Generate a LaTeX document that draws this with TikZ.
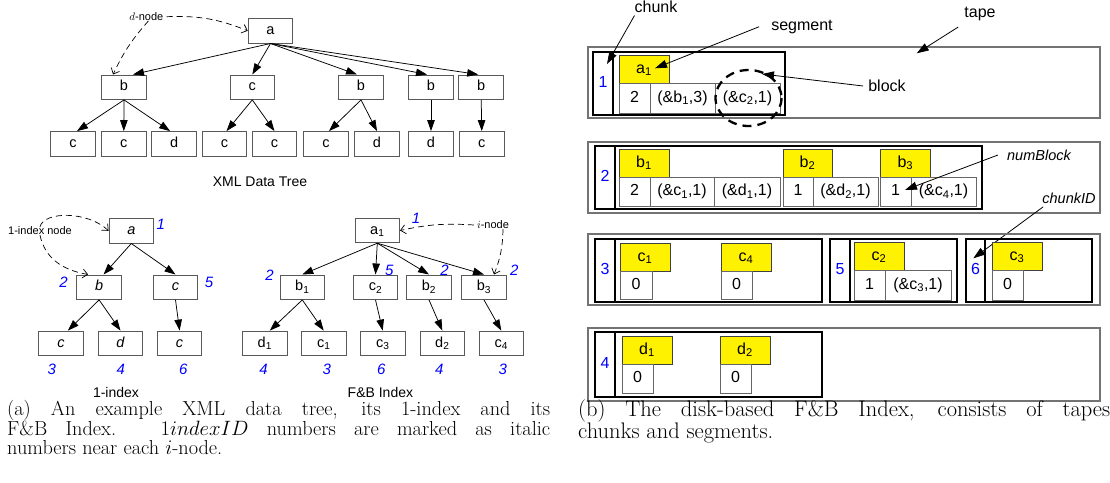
\documentclass[tikz,border=0pt]{standalone}
\usepackage{fontspec}
\newfontfamily\arl{Liberation Sans}
\usetikzlibrary{arrows.meta}
\newcommand\sbs[1]{\textsubscript{#1}}
\newcommand\rbx[7]{\draw[#1] (#3,#4) rectangle (#5,#6) node[midway,txt] (#2) {#7};}
\begin{document}
\begin{tikzpicture}[x=1pt,y=-1pt,
  tbox/.style={draw=black!65, line width=0.9pt, fill=white, minimum width=44.6pt, minimum height=24.5pt, inner sep=0pt, text height=10.5pt, text depth=3pt, font=\arl\fontsize{14.5}{16}\selectfont},
  tarr/.style={-{Triangle[length=11pt,width=7.5pt]}, line width=0.75pt},
  darr/.style={dash pattern=on 6pt off 4pt, line width=0.7pt, -{Straight Barb[length=5pt,width=9pt]}},
  num/.style={text=blue, font=\arl\itshape\fontsize{15}{15}\selectfont, inner sep=0pt},
  lbl/.style={font=\arl\fontsize{14}{14}\selectfont, inner sep=0pt},
  slbl/.style={font=\arl\fontsize{11}{11}\selectfont, inner sep=0pt},
  tape/.style={draw=black!55, line width=1.3pt},
  chk/.style={draw=black, line width=2.6pt},
  cel/.style={draw=black!60, line width=0.9pt, fill=white},
  yel/.style={draw=black!75, line width=0.8pt, fill=yellow},
  txt/.style={font=\arl\fontsize{16}{16}\selectfont, text height=11.5pt, text depth=3.5pt, inner sep=0pt},
  cid/.style={txt, text=blue},
  lab/.style={font=\arl\fontsize{16}{16}\selectfont, inner sep=0pt},
  ilab/.style={font=\arl\itshape\fontsize{14.5}{14.5}\selectfont, inner sep=0pt},
  parr/.style={-{Triangle[length=12pt,width=8pt]}, line width=0.8pt},
  captn/.style={inner sep=0pt, align=justify, anchor=north west}
]
\useasboundingbox (0,0) rectangle (1110,482);
\fill[white] (0,0) rectangle (1110,482);

% ---------- XML data tree ----------
\node[tbox] (xa) at (270.5,30.8) {a};
\node[tbox] (xb1) at (124,87.2) {b};
\node[tbox] (xc1) at (252.3,87.2) {c};
\node[tbox] (xb2) at (361,87.2) {b};
\node[tbox] (xb3) at (431,87.2) {b};
\node[tbox] (xb4) at (481.2,87.2) {b};
\node[tbox] (xl1) at (73,143.8) {c};
\node[tbox] (xl2) at (123.8,143.8) {c};
\node[tbox] (xl3) at (174.1,143.8) {d};
\node[tbox] (xl4) at (224.5,143.8) {c};
\node[tbox] (xl5) at (274.5,143.8) {c};
\node[tbox] (xl6) at (326,143.8) {c};
\node[tbox] (xl7) at (377,143.8) {d};
\node[tbox] (xl8) at (431,143.8) {d};
\node[tbox] (xl9) at (481.8,143.8) {c};
\draw[tarr] (xa.south) -- ([xshift=9pt]xb1.north);
\draw[tarr] (xa.south) -- (xc1.north);
\draw[tarr] (xa.south) -- ([xshift=-4pt]xb2.north);
\draw[tarr] (xa.south) -- ([xshift=-4pt]xb3.north);
\draw[tarr] (xa.south) -- ([xshift=-3pt]xb4.north);
\draw[tarr] (xb1.south) -- ([xshift=4pt]xl1.north);
\draw[tarr] (xb1.south) -- (xl2.north);
\draw[tarr] (xb1.south) -- ([xshift=-4pt]xl3.north);
\draw[tarr] (xc1.south) -- ([xshift=2pt]xl4.north);
\draw[tarr] (xc1.south) -- (xl5.north);
\draw[tarr] (xb2.south) -- ([xshift=3pt]xl6.north);
\draw[tarr] (xb2.south) -- (xl7.north);
\draw[tarr] (xb3.south) -- (xl8.north);
\draw[tarr] (xb4.south) -- (xl9.north);
\node[lbl] (t1) at (260,181.7) {XML Data Tree};
\node[slbl] (dn) at (146.4,16.7) {$d$-node};
\draw[darr] ([xshift=3pt]dn.east) to[bend left=12] (xa.west);
\draw[darr] ([xshift=2pt]dn.south) to[bend right=8] ([xshift=-11pt]xb1.north);

% ---------- 1-index ----------
\node[tbox] (ia) at (131.3,230.8) {\itshape a};
\node[tbox] (ib) at (99.1,287.2) {\itshape b};
\node[tbox] (ic) at (175.5,287.2) {\itshape c};
\node[tbox] (il1) at (60.9,343.3) {\itshape c};
\node[tbox] (il2) at (120.5,343.3) {\itshape d};
\node[tbox] (il3) at (179.6,343.3) {\itshape c};
\draw[tarr] (ia.south) -- ([xshift=4.5pt]ib.north);
\draw[tarr] (ia.south) -- (ic.north);
\draw[tarr] (ib.south) -- ([xshift=7pt]il1.north);
\draw[tarr] (ib.south) -- (il2.north);
\draw[tarr] (ic.south) -- (il3.north);
\node[num] (in1) at (160.7,224.3) {1};
\node[num] (in2) at (63.6,282.3) {2};
\node[num] (in5) at (209,282.3) {5};
\node[num] (in3) at (51.8,369) {3};
\node[num] (in4) at (120.7,369) {4};
\node[num] (in6) at (183.2,369) {6};
\node[slbl] (il) at (40,231) {1-index node};
\draw[darr] (il.north) .. controls (44,211) and (88,211) .. (ia.west);
\draw[darr] (il.south) .. controls (45,258) and (62,270) .. ([xshift=-11pt]ib.north);
\node[lbl] (t2) at (116,392) {1-index};

% ---------- F&B index ----------
\node[tbox] (fa) at (377.3,230.5) {a\sbs{1}};
\node[tbox] (fb1) at (302.3,287.2) {b\sbs{1}};
\node[tbox] (fc2) at (375.5,287.2) {c\sbs{2}};
\node[tbox] (fb2) at (429,287.2) {b\sbs{2}};
\node[tbox] (fb3) at (484,287.2) {b\sbs{3}};
\node[tbox] (fd1) at (264.8,343.3) {d\sbs{1}};
\node[tbox] (fc1) at (323.7,343.3) {c\sbs{1}};
\node[tbox] (fc3) at (382.7,343.3) {c\sbs{3}};
\node[tbox] (fd2) at (442.3,343.3) {d\sbs{2}};
\node[tbox] (fc4) at (501.3,343.3) {c\sbs{4}};
\draw[tarr] (fa.south) -- (fb1.north);
\draw[tarr] (fa.south) -- (fc2.north);
\draw[tarr] (fa.south) -- (fb2.north);
\draw[tarr] (fa.south) -- (fb3.north);
\draw[tarr] (fb1.south) -- ([xshift=5pt]fd1.north);
\draw[tarr] (fb1.south) -- (fc1.north);
\draw[tarr] (fc2.south) -- (fc3.north);
\draw[tarr] (fb2.south) -- (fd2.north);
\draw[tarr] (fb3.south) -- (fc4.north);
\node[num] (fn1) at (416,218.3) {1};
\node[num] (fn2a) at (269.6,275) {2};
\node[num] (fn5) at (389.3,270) {5};
\node[num] (fn2b) at (444.6,270) {2};
\node[num] (fn2c) at (514.3,270) {2};
\node[num] (fn4a) at (263.6,369) {4};
\node[num] (fn3a) at (326.8,369) {3};
\node[num] (fn6) at (381.4,369) {6};
\node[num] (fn4b) at (439.3,369) {4};
\node[num] (fn3b) at (502.9,369) {3};
\node[slbl] (inode) at (493,225) {$i$-node};
\draw[darr] ([xshift=-3pt]inode.west) to[bend right=8] (fa.east);
\draw[darr] ([xshift=10pt]inode.south) to[bend left=10] ([xshift=10pt]fb3.north);
\node[lbl] (t3) at (380.4,392) {F\&B Index};

% ---------- caption (a) ----------
\node[captn, font=\fontsize{20.3}{19.5}\selectfont, text width=543pt] (capa) at (7,400.5) {(a) An example XML data tree, its 1-index and its\linebreak F\&B Index. $1indexID$ numbers are marked as italic\linebreak numbers near each $i$-node.};

% ---------- tape 1 ----------
\draw[tape] (588,47) rectangle (1100,118);
\draw[chk] (593,52) rectangle (785,115);
\draw[chk] (593,52) rectangle (613,115) node[midway,cid] (id1) {1};
\rbx{yel}{sa1}{619}{55}{669}{83}{a\sbs{1}}
\rbx{cel}{s1n}{619}{83}{650}{113}{2}
\rbx{cel}{s1p1}{650}{83}{715}{113}{(\&b\sbs{1},3)}
\rbx{cel}{s1p2}{715}{83}{780}{113}{(\&c\sbs{2},1)}
\draw[dash pattern=on 9pt off 6pt, line width=2.3pt] (748.5,98) ellipse [x radius=33, y radius=28];
\node[lab] (lchunk) at (656,6.5) {chunk};
\node[lab] (lseg) at (802,26.7) {segment};
\node[lab] (lblock) at (887,86) {block};
\node[lab] (ltape) at (980,14) {tape};
\coordinate (tchunk) at (607,64);
\coordinate (tseg) at (655,68.3);
\coordinate (tblock) at (762,74);
\coordinate (ttape) at (916.7,53.3);
\draw[parr] ([yshift=-3pt]lchunk.south west) -- (tchunk);
\draw[parr] ([xshift=-12pt]lseg.west) -- (tseg);
\draw[parr] ([xshift=-5pt]lblock.west) -- (tblock);
\draw[parr] ([xshift=-6pt,yshift=-6pt]ltape.south west) -- (ttape);

% ---------- tape 2 ----------
\draw[tape] (588,142) rectangle (1100,213);
\draw[chk] (595,146) rectangle (982,209);
\draw[chk] (595,146) rectangle (615,209) node[midway,cid] (id2) {2};
\rbx{yel}{sb1}{619}{149}{669}{177}{b\sbs{1}}
\rbx{cel}{s2n}{619}{177}{650}{206}{2}
\rbx{cel}{s2p1}{650}{177}{714}{206}{(\&c\sbs{1},1)}
\rbx{cel}{s2p2}{714}{177}{780}{206}{(\&d\sbs{1},1)}
\rbx{yel}{sb2}{783}{149}{832}{177}{b\sbs{2}}
\rbx{cel}{s3n}{783}{177}{813}{206}{1}
\rbx{cel}{s3p1}{813}{177}{878}{206}{(\&d\sbs{2},1)}
\rbx{yel}{sb3}{880}{149}{930.7}{177}{b\sbs{3}}
\rbx{cel}{s4n}{880}{177}{911}{206}{1}
\rbx{cel}{s4p1}{911}{177}{976}{206}{(\&c\sbs{4},1)}
\node[ilab] (lnb) at (1039,155) {numBlock};
\node[ilab] (lcid) at (1069,198.3) {chunkID};
\coordinate (tnb) at (905,190);
\coordinate (tcid) at (973.3,258.3);
\draw[parr] ([xshift=-9pt]lnb.west) -- (tnb);
\draw[parr] ([xshift=1pt,yshift=-3pt]lcid.south west) -- (tcid);

% ---------- tape 3 ----------
\draw[tape] (588,234) rectangle (1100,305);
\draw[chk] (595,239) rectangle (822,302);
\draw[chk] (595,239) rectangle (615,302) node[midway,cid] (id3) {3};
\rbx{yel}{sc1}{620}{243}{670}{271}{c\sbs{1}}
\rbx{cel}{s5n}{620}{271}{652}{299}{0}
\rbx{yel}{sc4}{721}{243}{771}{271}{c\sbs{4}}
\rbx{cel}{s6n}{721}{271}{752}{299}{0}
\draw[chk] (830,239) rectangle (957,302);
\draw[chk] (830,239) rectangle (850,302) node[midway,cid] (id5) {5};
\rbx{yel}{sc2}{854}{242}{904}{270}{c\sbs{2}}
\rbx{cel}{s7n}{854}{270}{885}{300}{1}
\rbx{cel}{s7p1}{885}{270}{951}{300}{(\&c\sbs{3},1)}
\draw[chk] (966,239) rectangle (1092,302);
\draw[chk] (966,239) rectangle (985,302) node[midway,cid] (id6) {6};
\rbx{yel}{sc3}{992}{242}{1042}{270}{c\sbs{3}}
\rbx{cel}{s8n}{992}{270}{1023}{300}{0}

% ---------- tape 4 ----------
\draw[tape] (588,328) rectangle (1100,401);
\draw[chk] (595,332) rectangle (822,397);
\draw[chk] (595,332) rectangle (615,397) node[midway,cid] (id4) {4};
\rbx{yel}{sd1}{622}{336}{672}{364}{d\sbs{1}}
\rbx{cel}{s9n}{622}{364}{653}{393}{0}
\rbx{yel}{sd2}{720}{336}{770}{364}{d\sbs{2}}
\rbx{cel}{s10n}{720}{364}{751}{393}{0}

% ---------- caption (b) ----------
\node[captn, font=\fontsize{22.5}{20}\selectfont, text width=532pt] (capb) at (578,399) {(b) The disk-based F\&B Index, consists of tapes\linebreak chunks and segments.};
\end{tikzpicture}
\end{document}
